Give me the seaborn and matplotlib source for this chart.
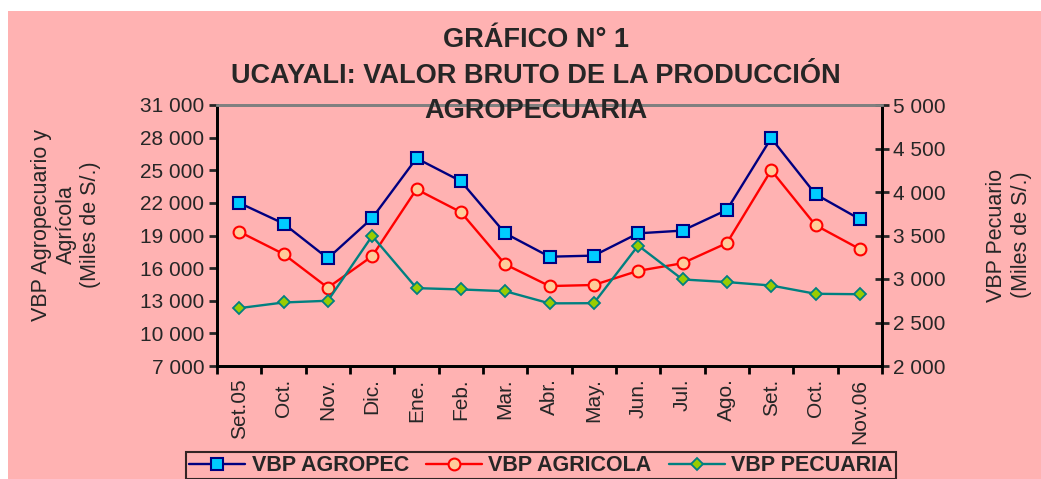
import numpy as np
import pandas as pd
import seaborn as sns
import matplotlib.pyplot as plt
from matplotlib.patches import Rectangle
from matplotlib.ticker import FixedLocator, FuncFormatter

meses = ["Set.05", "Oct.", "Nov.", "Dic.", "Ene.", "Feb.", "Mar.", "Abr.",
         "May.", "Jun.", "Jul.", "Ago.", "Set.", "Oct.", "Nov.06"]
vbp_agropec = [22000, 20100, 16900, 20600, 26100, 24000, 19200, 17050,
               17150, 19200, 19450, 21350, 27950, 22800, 20500]
vbp_agricola = [19350, 17300, 14200, 17100, 23250, 21150, 16350, 14350,
                14450, 15750, 16450, 18300, 25000, 19950, 17750]
vbp_pecuaria = [2665, 2730, 2750, 3495, 2895, 2880, 2860, 2720,
                2722, 3385, 2995, 2965, 2925, 2830, 2825]

df = pd.DataFrame({"idx": np.arange(len(meses)), "mes": meses,
                   "agropec": vbp_agropec, "agricola": vbp_agricola,
                   "pecuaria": vbp_pecuaria})

sns.set_style("ticks")
plt.rcParams["font.family"] = ["Liberation Sans", "DejaVu Sans"]

pink = "#FFB2B2"
fig = plt.figure(figsize=(10.41, 4.79), dpi=100, facecolor="white")
fig.patches.append(Rectangle((8 / 1041, 0), 1, 1 - 11 / 479, transform=fig.transFigure,
                             facecolor=pink, edgecolor="none", zorder=-10))

ax = fig.add_axes([217 / 1041, 113 / 479, 665 / 1041, 261 / 479])
ax.set_facecolor(pink)
ax2 = ax.twinx()

sns.lineplot(data=df, x="idx", y="agropec", ax=ax, color="#000080", linewidth=1.7,
             marker="s", markersize=8, markerfacecolor="#00CCFF",
             markeredgecolor="#000080", markeredgewidth=1.5, label="VBP AGROPEC")
sns.lineplot(data=df, x="idx", y="agricola", ax=ax, color="#FF0000", linewidth=1.7,
             marker="o", markersize=8.5, markerfacecolor="#FFCC99",
             markeredgecolor="#FF0000", markeredgewidth=1.5, label="VBP AGRICOLA")
sns.lineplot(data=df, x="idx", y="pecuaria", ax=ax2, color="#008080", linewidth=1.7,
             marker="D", markersize=6.5, markerfacecolor="#99CC00",
             markeredgecolor="#008080", markeredgewidth=1.3, label="VBP PECUARIA")

h1, l1 = ax.get_legend_handles_labels()
h2, l2 = ax2.get_legend_handles_labels()
for a in (ax, ax2):
    if a.get_legend() is not None:
        a.get_legend().remove()

fmt = FuncFormatter(lambda v, p: f"{int(v):,}".replace(",", " "))

ax.set_xlim(-0.5, len(meses) - 0.5)
ax.set_ylim(7000, 31000)
ax.set_yticks(np.arange(7000, 31001, 3000))
ax.yaxis.set_major_formatter(fmt)
ax2.set_ylim(2000, 5000)
ax2.set_yticks(np.arange(2000, 5001, 500))
ax2.yaxis.set_major_formatter(fmt)

ax.set_xticks(df["idx"])
ax.set_xticklabels(meses, rotation=90)
ax.xaxis.set_minor_locator(FixedLocator(np.arange(-0.5, len(meses), 1)))
ax.tick_params(axis="x", which="major", length=0, pad=9, labelsize=15)
ax.tick_params(axis="x", which="minor", length=6, width=2, direction="out", color="black")
ax.tick_params(axis="y", length=6, width=2, direction="out", labelsize=15, pad=3)
ax2.tick_params(axis="y", length=10, width=2, direction="inout", labelsize=15, pad=3)

ax.set_xlabel("")
ax.set_ylabel("")
ax2.set_xlabel("")
ax2.set_ylabel("")

for a in (ax, ax2):
    for s in ("left", "right", "bottom"):
        a.spines[s].set_color("black")
        a.spines[s].set_linewidth(2)
    a.spines["top"].set_color("#808080")
    a.spines["top"].set_linewidth(2)

fig.text(66 / 1041, 1 - 225 / 479, "VBP Agropecuario y\nAgrícola\n(Miles de S/.)",
         rotation=90, ha="center", va="center", multialignment="center", fontsize=15.5)
fig.text(1009 / 1041, 1 - 235 / 479, "VBP Pecuario\n(Miles de S/.)",
         rotation=90, ha="center", va="center", multialignment="center", fontsize=15.5)

fig.text(536 / 1041, 1 - 27 / 479,
         "GRÁFICO N° 1\nUCAYALI: VALOR BRUTO DE LA PRODUCCIÓN\nAGROPECUARIA",
         ha="center", va="top", fontsize=19.5, fontweight="bold", linespacing=1.48,
         zorder=10)

leg = fig.legend(h1 + h2, l1 + l2, loc="upper center",
                 bbox_to_anchor=(541 / 1041, 1 - 452 / 479), ncol=3,
                 frameon=True, fancybox=False, facecolor=pink, edgecolor="black",
                 prop={"weight": "bold", "size": 15.5}, handlelength=2.6,
                 columnspacing=0.8, handletextpad=0.3, borderpad=0.15, borderaxespad=0)
leg.get_frame().set_linewidth(1.5)

fig.savefig("out.png", dpi=100, facecolor="white")
